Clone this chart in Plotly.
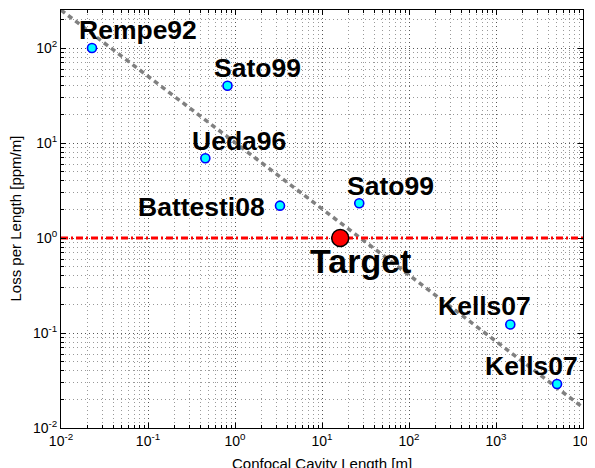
import math
import plotly.graph_objects as go

# ---- data ----
names = ["Rempe92", "Sato99", "Ueda96", "Battesti08", "Sato99", "Kells07", "Kells07"]
cav_len = [0.0227, 0.82, 0.456, 3.29, 26.8, 1460, 5030]
loss = [100, 40, 6.9, 2.19, 2.32, 0.123, 0.029]
# label offsets (pixels) and anchors
label_dx = [46, 30, 34, -13, 31, -26, -26]
label_dy = [18, 18, 17, -1, 17, 18, 18]
label_anchor = ["center", "center", "center", "right", "center", "center", "center"]

target_name = "Target"
target_len = [16.2]
target_loss = [1.0]

target_line_x = [0.01, 10000]
target_line_y = [1.0, 1.0]

fit_x = [0.01, 10000]
fit_y = [251, 0.0164]

x_title = "Confocal Cavity Length [m]"
y_title = "Loss per Length [ppm/m]"

xtick_vals = [0.01, 0.1, 1, 10, 100, 1000, 10000]
xtick_text = ["10<sup>-2</sup>", "10<sup>-1</sup>", "10<sup>0</sup>", "10<sup>1</sup>",
              "10<sup>2</sup>", "10<sup>3</sup>", "10<sup>4</sup>"]
ytick_vals = [0.01, 0.1, 1, 10, 100]
ytick_text = ["10<sup>-2</sup>", "10<sup>-1</sup>", "10<sup>0</sup>", "10<sup>1</sup>", "10<sup>2</sup>"]
minor_mult = [2, 3, 4, 5, 6, 7, 8, 9]
x_decades = [0.01, 0.1, 1, 10, 100, 1000]
y_decades = [0.01, 0.1, 1, 10, 100]

x_minor = [d * m for d in x_decades for m in minor_mult]
y_minor = [d * m for d in y_decades for m in minor_mult]

FONT = "Liberation Sans, Arial, Helvetica, sans-serif"

fig = go.Figure()

fig.add_trace(go.Scatter(x=fit_x, y=fit_y, mode="lines",
                         line=dict(color="#808080", width=3.5, dash="5px,4px"),
                         hoverinfo="skip", showlegend=False))
fig.add_trace(go.Scatter(x=target_line_x, y=target_line_y, mode="lines",
                         line=dict(color="#FF0000", width=3, dash="7px,3px,2px,3px"),
                         hoverinfo="skip", showlegend=False))
fig.add_trace(go.Scatter(x=cav_len, y=loss, mode="markers",
                         marker=dict(size=9, color="#00FFFF", line=dict(color="#0000FF", width=1.6)),
                         showlegend=False))
fig.add_trace(go.Scatter(x=target_len, y=target_loss, mode="markers",
                         marker=dict(size=17, color="#FF0000", line=dict(color="#000000", width=1.5)),
                         showlegend=False))

for n, xv, yv, dx, dy, anc in zip(names, cav_len, loss, label_dx, label_dy, label_anchor):
    fig.add_annotation(x=math.log10(xv), y=math.log10(yv), xref="x", yref="y",
                       text="<b>%s</b>" % n, showarrow=False,
                       xanchor=anc, yanchor="middle", xshift=dx, yshift=dy,
                       font=dict(family=FONT, size=26.5, color="black"))
fig.add_annotation(x=math.log10(target_len[0]), y=math.log10(target_loss[0]), xref="x", yref="y",
                   text="<b>%s</b>" % target_name, showarrow=False,
                   xanchor="center", yanchor="middle", xshift=20, yshift=-23,
                   font=dict(family=FONT, size=34, color="black"))

# axis titles as annotations for exact placement
fig.add_annotation(x=0.5, y=0, xref="paper", yref="paper", text=x_title, showarrow=False,
                   xanchor="center", yanchor="top", yshift=-25,
                   font=dict(family=FONT, size=15, color="black"))
fig.add_annotation(x=0, y=0.5, xref="paper", yref="paper", text=y_title, showarrow=False,
                   xanchor="right", yanchor="middle", xshift=-36, textangle=-90,
                   font=dict(family=FONT, size=15, color="black"))

axis_common = dict(
    type="log", showline=True, linecolor="black", linewidth=1, mirror="allticks",
    ticks="inside", ticklen=5, tickcolor="black", automargin=False,
    showgrid=True, gridcolor="#555555", griddash="1px,3px", gridwidth=1,
    zeroline=False,
    tickfont=dict(family=FONT, size=14, color="black"),
)
minor_common = dict(ticks="inside", ticklen=3, tickcolor="black",
                    showgrid=True, gridcolor="#999999", griddash="1px,3px", gridwidth=1)

fig.update_xaxes(range=[-2, 4], tickvals=xtick_vals, ticktext=xtick_text,
                 minor=dict(tickvals=x_minor, **minor_common), **axis_common)
fig.update_yaxes(range=[-2, 2.4], tickvals=ytick_vals, ticktext=ytick_text,
                 minor=dict(tickvals=y_minor, **minor_common), **axis_common)

# the page body adds an 8px margin, so the figure is drawn 8px smaller and shifted
fig.update_layout(width=587, height=460, margin=dict(l=53, r=12, t=2, b=40),
                  plot_bgcolor="white", paper_bgcolor="white",
                  font=dict(family=FONT, color="black"))

fig.write_html("out.html")
